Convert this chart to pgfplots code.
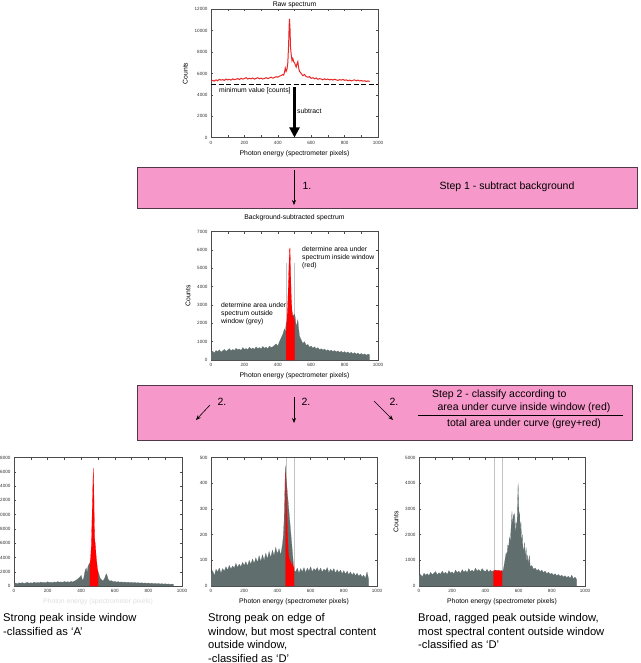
\documentclass[border=0pt]{standalone}
\usepackage{fontspec}
\setmainfont{Liberation Sans}
\usepackage{pgfplots}
\usepackage{pgfplotstable}
\pgfplotsset{compat=1.18}
\usetikzlibrary{arrows.meta}

\definecolor{stepbox}{RGB}{247,152,202}
\definecolor{stepedge}{RGB}{85,55,75}
\definecolor{specgrey}{RGB}{96,110,110}
\definecolor{winred}{RGB}{255,0,0}
\definecolor{rawred}{RGB}{232,38,38}
\definecolor{framegrey}{RGB}{75,75,75}
\definecolor{winline}{RGB}{195,195,195}

\pgfplotsset{
  spectrum/.style={
    scale only axis, width=167pt, height=128.5pt,
    anchor=south west,
    xmin=0, xmax=1000, ymin=0,
    xtick={0,200,...,1000}, minor xtick={100,300,...,900},
    tick align=inside, major tick length=2.2pt, minor tick length=2.2pt,
    axis line style={framegrey, line width=0.5pt},
    tick style={framegrey, line width=0.4pt},
    ticklabel style={font=\fontsize{4.6}{5}\selectfont, text=black!80},
    /pgf/number format/assume math mode=true,
    /pgf/number format/1000 sep={},
    scaled y ticks=false,
    label style={font=\fontsize{6.8}{7}\selectfont},
    xlabel={Photon energy (spectrometer pixels)},
    xlabel style={yshift=1pt},
    every axis title shift=0pt,
  },
  grey area/.style={fill=specgrey, draw=specgrey, line width=0.15pt},
  red area/.style={fill=winred, draw=winred, line width=0.15pt},
}

% raw spectrum
\pgfplotstableread{
x y
0 5300
10 5350
20 5280
30 5400
40 5320
50 5450
60 5380
70 5420
80 5350
90 5480
100 5400
110 5450
120 5380
130 5500
140 5420
150 5460
160 5520
170 5430
180 5550
190 5470
200 5520
210 5600
220 5480
230 5550
240 5500
250 5580
260 5470
270 5540
280 5600
290 5500
300 5560
310 5480
320 5530
330 5600
340 5520
350 5580
360 5650
370 5560
380 5620
390 5700
400 5650
410 5750
420 5800
430 5900
435 5850
440 6100
445 6500
450 6200
455 6400
460 7000
465 8800
468 10500
470 11100
473 10200
476 8500
480 7800
485 7200
490 7400
495 7100
500 7000
505 6800
510 6600
515 6900
520 7100
525 6500
530 6200
540 6000
550 5800
560 5900
570 5700
580 5650
590 5700
600 5550
610 5600
620 5500
630 5580
640 5450
650 5520
660 5480
670 5400
680 5500
690 5420
700 5480
710 5400
720 5450
730 5380
740 5460
750 5400
760 5350
770 5420
780 5380
790 5440
800 5360
810 5400
820 5320
830 5380
840 5300
850 5360
860 5400
870 5320
880 5380
890 5300
900 5340
910 5280
920 5320
930 5250
940 5300
950 5250
}\rawspec

% background-subtracted spectrum
\pgfplotstableread{
x y
0 420
10 480
20 380
30 520
40 450
50 560
60 430
70 500
80 580
90 470
100 540
110 620
120 500
130 580
140 520
150 640
160 560
170 600
180 520
190 680
200 580
210 630
220 560
230 700
240 600
250 650
260 580
270 720
280 620
290 680
300 600
310 740
320 640
330 700
340 620
350 760
360 680
370 720
380 800
390 880
400 760
410 1000
420 1200
430 1400
440 1700
445 1500
450 2000
460 2200
470 2300
480 2300
490 2400
500 2500
505 2300
510 1800
515 2000
520 2200
525 1700
530 1300
540 1100
550 900
560 1000
570 800
580 850
590 700
600 760
610 650
620 720
630 600
640 680
650 560
660 620
670 540
680 600
690 500
700 560
710 480
720 540
730 460
740 520
750 440
760 500
770 420
780 480
790 400
800 460
810 380
820 440
830 360
840 420
850 340
860 400
870 320
880 380
890 300
900 360
910 280
920 340
930 260
940 320
950 280
}\bggrey
\pgfplotstableread{
x y
450 1500
455 2200
460 3200
465 4600
470 6000
473 6100
476 5100
480 3600
485 2700
490 2400
495 2300
500 2200
}\bgred

% case A
\pgfplotstableread{
x y
0 320
10 420
20 300
30 450
40 380
50 480
60 350
70 440
80 520
90 380
100 460
110 400
120 540
130 420
140 500
150 440
160 560
170 460
180 520
190 440
200 600
210 480
220 540
230 460
240 580
250 500
260 620
270 520
280 580
290 500
300 640
310 540
320 600
330 520
340 660
350 560
360 700
370 800
380 1000
390 1200
400 1500
405 1000
410 800
415 1100
420 1800
425 2300
430 2500
435 1900
440 2700
445 3000
452 3200
500 2000
505 1700
510 1300
515 1000
520 900
525 800
530 700
535 900
540 1100
545 1500
550 1700
555 1400
560 1000
565 800
570 700
580 750
590 600
600 650
610 550
620 620
630 520
640 580
650 500
660 560
670 480
680 540
690 460
700 520
710 440
720 500
730 420
740 480
750 400
760 460
770 380
780 440
790 360
800 420
810 340
820 400
830 320
840 380
850 300
860 360
870 280
880 340
890 260
900 320
910 240
920 300
930 220
940 280
950 200
}\agrey
\pgfplotstableread{
x y
452 3200
456 4000
460 5500
464 9000
468 13000
472 16500
475 14000
478 9000
481 6300
484 6000
488 4500
492 3500
496 2600
500 2000
}\ared

% case D, peak on the window edge
\pgfplotstableread{
x y
0 45
10 60
20 40
30 65
40 55
50 70
60 50
70 68
80 58
90 75
100 62
110 80
120 66
130 78
140 70
150 88
160 72
170 85
180 75
190 92
200 80
210 95
220 78
230 100
240 85
250 105
260 88
270 110
280 92
290 118
300 95
310 122
320 100
330 128
340 105
350 135
360 110
370 140
380 118
390 150
400 125
410 145
420 120
430 160
435 190
440 250
445 380
448 470
450 440
500 60
510 55
520 70
530 50
540 68
550 55
560 72
570 52
580 70
590 58
600 75
610 55
620 68
630 60
640 72
650 56
660 70
670 54
680 66
690 58
700 72
710 52
720 66
730 56
740 68
750 50
760 64
770 52
780 62
790 48
800 60
810 46
820 58
830 44
840 55
850 42
860 52
870 40
880 50
890 38
900 46
910 35
920 42
930 30
940 55
950 25
}\dagrey
\pgfplotstableread{
x y
450 440
453 380
456 300
460 220
465 140
470 110
475 100
480 95
485 80
490 90
495 70
500 75
}\dared

% case D, broad peak outside the window
\pgfplotstableread{
x y
0 380
10 450
20 350
30 500
40 420
50 480
60 400
70 530
80 440
90 500
100 560
110 430
120 520
130 460
140 580
150 480
160 540
170 450
180 600
190 500
200 550
210 470
220 620
230 520
240 580
250 490
260 640
270 540
280 600
290 520
300 680
310 560
320 620
330 540
340 700
350 580
360 640
370 560
380 680
390 600
400 560
410 650
420 540
430 620
440 560
450 600
500 600
505 560
510 700
515 900
520 1100
525 1300
530 1200
535 1600
540 1500
545 1900
550 1700
555 2300
560 2900
563 2200
566 2600
570 2800
573 2300
576 2850
580 2400
583 1900
586 2500
590 2200
593 3000
597 4000
600 3300
603 2500
606 2900
610 2100
614 2500
618 1700
622 2000
626 1500
630 1300
635 1700
640 1100
645 1500
650 900
655 1200
660 800
665 1200
670 750
680 800
690 650
700 700
710 600
720 650
730 560
740 620
750 520
760 580
770 480
780 540
790 460
800 500
810 420
820 480
830 400
840 450
850 380
860 420
870 350
880 400
890 330
900 380
910 300
920 420
930 280
940 350
950 250
}\dbgrey
\pgfplotstableread{
x y
450 580
460 620
470 590
480 610
490 570
500 600
}\dbred

\begin{document}
\begin{tikzpicture}[x=1pt,y=1pt]
\useasboundingbox (0,0) rectangle (640,-663);
\fill[white] (0,0) rectangle (640,-663);

% ---- raw spectrum
\begin{axis}[spectrum, at={(211pt,-137.7pt)},
  ymax=12000, ytick={0,2000,...,12000},
  title={Raw spectrum},
  every axis title/.style={at={(0.5,1)}, anchor=center, yshift=4.8pt,
    inner sep=0pt, font=\fontsize{6.8}{7}\selectfont},
  ylabel={Counts}]
\addplot[rawred, line width=1pt] table {\rawspec};
\addplot[black, line width=1.2pt, dash pattern=on 5pt off 2.5pt] coordinates {(0,5000) (1000,5000)};
\end{axis}
\draw[black, line width=2.2pt, -{Triangle[length=10pt,width=10pt]}] (294.5,-87) -- (294.5,-137.5);
\node[anchor=west, inner sep=0, font=\fontsize{6.8}{8}\selectfont] at (219,-91) {minimum value [counts]};
\node[anchor=west, inner sep=0, font=\fontsize{6.8}{8}\selectfont] at (297,-111) {subtract};

% ---- step 1 box
\filldraw[fill=stepbox, draw=stepedge, line width=0.8pt] (137,-167) rectangle (637,-208);
\draw[black, line width=0.6pt, -{Stealth[length=5pt,width=4pt]}] (294,-170) -- (294,-205);
\node[font=\fontsize{10.5}{12}\selectfont] at (307,-186) {1.};
\node[font=\fontsize{10.5}{12}\selectfont] at (507,-187) {Step 1 - subtract background};

% ---- background-subtracted spectrum
\begin{axis}[spectrum, at={(211pt,-360pt)},
  ymax=7000, ytick={0,1000,...,7000},
  title={Background-subtracted spectrum},
  every axis title/.style={at={(0.5,1)}, anchor=center, yshift=14pt,
    inner sep=0pt, font=\fontsize{6.8}{7}\selectfont},
  ylabel={Counts}]
\addplot[winline, line width=0.4pt] coordinates {(450,0) (450,5300)};
\addplot[winline, line width=0.4pt] coordinates {(500,0) (500,5300)};
\addplot[grey area] table {\bggrey} \closedcycle;
\addplot[red area] table {\bgred} \closedcycle;
\end{axis}
\node[anchor=north west, align=left, inner sep=0, font=\fontsize{6.8}{8}\selectfont] at (302,-246)
  {determine area under\\spectrum inside window\\(red)};
\node[anchor=north west, align=left, inner sep=0, font=\fontsize{6.8}{8}\selectfont] at (221,-302)
  {determine area under\\spectrum outside\\window (grey)};

% ---- step 2 box
\filldraw[fill=stepbox, draw=stepedge, line width=0.8pt] (137,-385) rectangle (632,-440);
\draw[black, line width=0.6pt, -{Stealth[length=5pt,width=4pt]}] (210,-405) -- (196,-420);
\node[font=\fontsize{10.5}{12}\selectfont] at (222,-402) {2.};
\draw[black, line width=0.6pt, -{Stealth[length=5pt,width=4pt]}] (294,-397) -- (294,-423);
\node[font=\fontsize{10.5}{12}\selectfont] at (306,-402) {2.};
\draw[black, line width=0.6pt, -{Stealth[length=5pt,width=4pt]}] (374,-401) -- (393,-420);
\node[font=\fontsize{10.5}{12}\selectfont] at (394,-402) {2.};
\node[anchor=west, inner sep=0, font=\fontsize{10.5}{12}\selectfont] at (432,-395) {Step 2 - classify according to};
\node[font=\fontsize{10.5}{12}\selectfont] at (524,-408) {area under curve inside window (red)};
\draw[black, line width=0.6pt] (418,-415.5) -- (623,-415.5);
\node[font=\fontsize{10.5}{12}\selectfont] at (524,-424) {total area under curve (grey+red)};

% ---- case A
\begin{axis}[spectrum, at={(14pt,-586pt)}, width=168pt,
  ymax=18000, ytick={0,2000,...,18000},
  xlabel style={text=gray!25}]
\addplot[grey area] table {\agrey} \closedcycle;
\addplot[red area] table {\ared} \closedcycle;
\end{axis}

% ---- case D, edge peak
\begin{axis}[spectrum, at={(211pt,-586pt)}, width=166pt,
  ymax=500, ytick={0,100,...,500}]
\addplot[winline, line width=0.4pt] coordinates {(450,0) (450,500)};
\addplot[winline, line width=0.4pt] coordinates {(500,0) (500,500)};
\addplot[grey area] table {\dagrey} \closedcycle;
\addplot[red area] table {\dared} \closedcycle;
\end{axis}

% ---- case D, broad peak
\begin{axis}[spectrum, at={(419pt,-586pt)}, width=166pt,
  ymax=5000, ytick={0,1000,...,5000},
  ylabel={Counts}]
\addplot[winline, line width=0.4pt] coordinates {(450,0) (450,5000)};
\addplot[winline, line width=0.4pt] coordinates {(500,0) (500,5000)};
\addplot[grey area] table {\dbgrey} \closedcycle;
\addplot[red area] table {\dbred} \closedcycle;
\end{axis}

% ---- captions
\node[anchor=north west, align=left, inner sep=0, font=\fontsize{11.2}{13.5}\selectfont] at (3,-613.5)
  {Strong peak inside window\\-classified as ‘A’};
\node[anchor=north west, align=left, inner sep=0, font=\fontsize{11.2}{13.5}\selectfont] at (208,-613.5)
  {Strong peak on edge of\\window, but most spectral content\\outside window,\\-classified as ‘D’};
\node[anchor=north west, align=left, inner sep=0, font=\fontsize{11.2}{13.5}\selectfont] at (418,-613.5)
  {Broad, ragged peak outside window,\\most spectral content outside window\\-classified as ‘D’};
\end{tikzpicture}
\end{document}
